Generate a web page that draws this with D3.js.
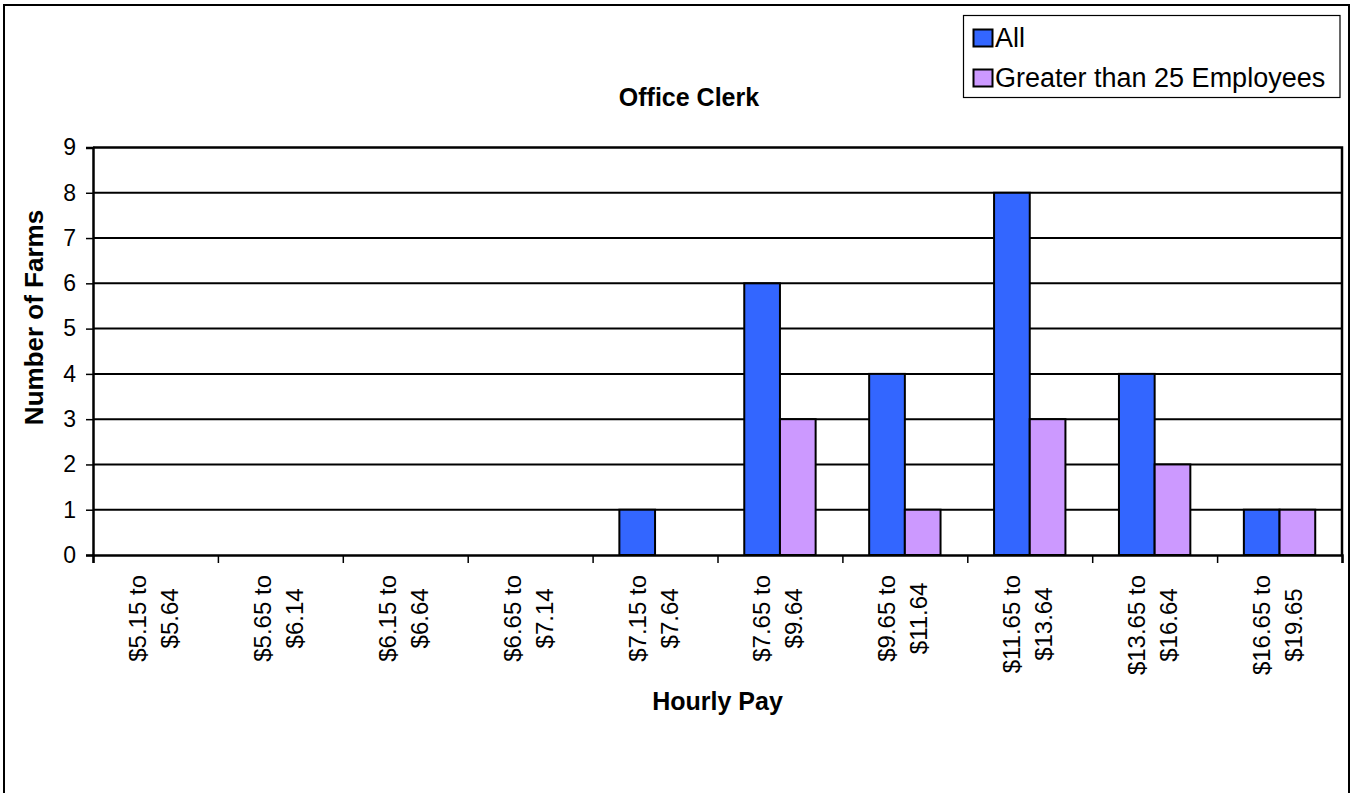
<!DOCTYPE html>
<html>
<head>
<meta charset="utf-8">
<script src="https://cdn.jsdelivr.net/npm/d3@7"></script>
<style>
  html, body { margin: 0; padding: 0; background: #fff; }
  svg { display: block; }
  text { font-family: Arial, "Liberation Sans", sans-serif; fill: #000; }
</style>
</head>
<body>
<svg id="chart" width="1354" height="793"></svg>
<script>
// ---- data ----
const categories = [
  ["$5.15 to", "$5.64"],
  ["$5.65 to", "$6.14"],
  ["$6.15 to", "$6.64"],
  ["$6.65 to", "$7.14"],
  ["$7.15 to", "$7.64"],
  ["$7.65 to", "$9.64"],
  ["$9.65 to", "$11.64"],
  ["$11.65 to", "$13.64"],
  ["$13.65 to", "$16.64"],
  ["$16.65 to", "$19.65"]
];
const seriesNames = ["All", "Greater than 25 Employees"];
const allValues = [0, 0, 0, 0, 1, 6, 4, 8, 4, 1];
const greaterValues = [0, 0, 0, 0, 0, 3, 1, 3, 2, 1];
const yTicks = [0, 1, 2, 3, 4, 5, 6, 7, 8, 9];
const colors = ["#3366FF", "#CC99FF"];
const chartTitle = "Office Clerk";
const xTitle = "Hourly Pay";
const yTitle = "Number of Farms";

// ---- layout ----
const svg = d3.select("#chart");
const pL = 93, pR = 1342, pT = 147.5, pB = 555;

const catKeys = categories.map(c => c.join(" "));
const x = d3.scaleBand().domain(catKeys).range([pL, pR]).paddingInner(0).paddingOuter(0);
const xs = d3.scaleBand().domain(seriesNames).range([0, x.bandwidth()]).paddingInner(0).paddingOuter(0.75);
const xb = d3.scaleLinear().domain([0, categories.length]).range([pL, pR]);
const y = d3.scaleLinear().domain([0, 9]).range([pB, pT]);

// outer chart border
svg.append("rect")
  .attr("x", 4).attr("y", 5).attr("width", 1345).attr("height", 800)
  .attr("fill", "#fff").attr("stroke", "#000").attr("stroke-width", 2);

// gridlines
svg.append("g").selectAll("line").data(yTicks.filter(t => t > 0 && t < 9)).join("line")
  .attr("x1", pL).attr("x2", pR)
  .attr("y1", d => y(d)).attr("y2", d => y(d))
  .attr("stroke", "#000").attr("stroke-width", 2);

// bars
const seriesData = [allValues, greaterValues];
const g = svg.append("g");
seriesData.forEach((vals, si) => {
  g.selectAll(".bar" + si).data(vals).join("rect")
    .attr("class", "bar" + si)
    .attr("x", (d, i) => x(catKeys[i]) + xs(seriesNames[si]))
    .attr("width", xs.bandwidth())
    .attr("y", d => y(d))
    .attr("height", d => y(0) - y(d))
    .attr("fill", colors[si])
    .attr("stroke", "#000").attr("stroke-width", 2);
});

// plot border (top / right)
svg.append("path")
  .attr("d", `M${pL},${pT}H${pR}V${pB}`)
  .attr("fill", "none").attr("stroke", "#000").attr("stroke-width", 2.5);

// y axis
const yAxis = svg.append("g").attr("transform", `translate(${pL},0)`)
  .call(d3.axisLeft(y).tickValues(yTicks).tickSize(7).tickPadding(10).tickFormat(d3.format("d")));
yAxis.select(".domain").attr("stroke", "#000").attr("stroke-width", 2.5);
yAxis.selectAll(".tick line").attr("stroke", "#000").attr("stroke-width", 1.5);
yAxis.selectAll(".tick text").attr("font-size", 23).attr("font-family", "Arial, 'Liberation Sans', sans-serif").attr("fill", "#000");

// x axis (ticks at category boundaries)
const xAxis = svg.append("g").attr("transform", `translate(0,${pB})`)
  .call(d3.axisBottom(xb).tickValues(d3.range(categories.length + 1)).tickSize(8).tickFormat(""));
xAxis.select(".domain").attr("stroke", "#000").attr("stroke-width", 2.5);
xAxis.selectAll(".tick line").attr("stroke", "#000").attr("stroke-width", 1.5);

// x category labels (rotated, two lines)
const labTop = 575;
categories.forEach((lines, i) => {
  const cx = x(catKeys[i]) + x.bandwidth() / 2;
  const grp = svg.append("g");
  const texts = lines.map((ln, li) => grp.append("text")
    .attr("font-size", 24)
    .attr("text-anchor", "middle")
    .text(ln));
  const maxLen = d3.max(texts, t => t.node().getComputedTextLength());
  const cy = labTop + maxLen / 2;
  texts.forEach((t, li) => {
    const bx = cx + (li === 0 ? -9.5 : 22.5);
    t.attr("transform", `translate(${bx},${cy}) rotate(-90)`);
  });
});

// titles
svg.append("text").attr("x", 689).attr("y", 106)
  .attr("text-anchor", "middle").attr("font-size", 25).attr("font-weight", "bold")
  .text(chartTitle);
svg.append("text").attr("x", (pL + pR) / 2).attr("y", 710)
  .attr("text-anchor", "middle").attr("font-size", 25).attr("font-weight", "bold")
  .text(xTitle);
svg.append("text").attr("transform", `translate(43,${(208 + 427) / 2}) rotate(-90)`)
  .attr("text-anchor", "middle").attr("font-size", 26).attr("font-weight", "bold")
  .text(yTitle);

// legend
const lg = svg.append("g");
lg.append("rect").attr("x", 963.5).attr("y", 15.5).attr("width", 376.5).attr("height", 82)
  .attr("fill", "#fff").attr("stroke", "#000").attr("stroke-width", 1.2);
const legRows = [47, 87];
seriesNames.forEach((name, i) => {
  lg.append("rect").attr("x", 973.5).attr("y", legRows[i] - 17.5).attr("width", 19).attr("height", 17)
    .attr("fill", colors[i]).attr("stroke", "#000").attr("stroke-width", 2);
  lg.append("text").attr("x", 995).attr("y", legRows[i])
    .attr("font-size", 27).text(name);
});
</script>
</body>
</html>
